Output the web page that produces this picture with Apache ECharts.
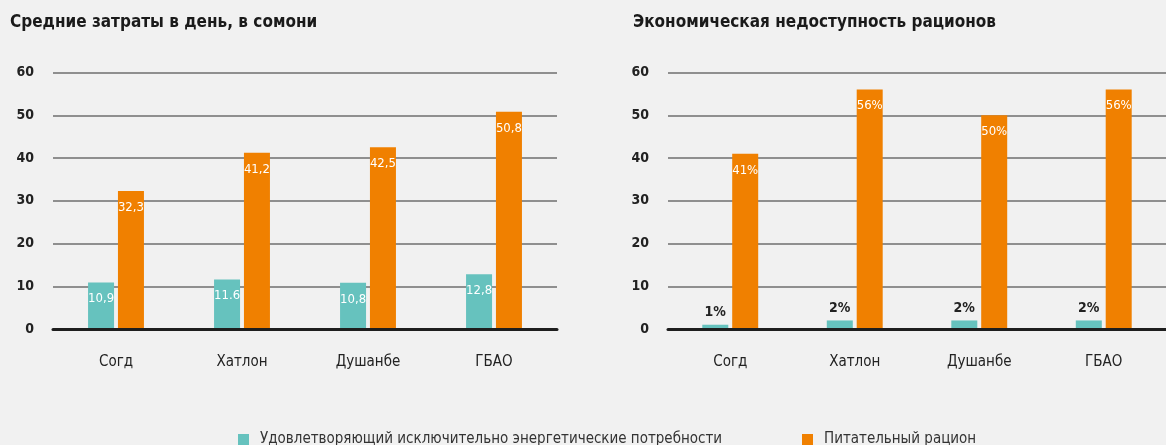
<!DOCTYPE html>
<html>
<head>
<meta charset="utf-8">
<script src="https://cdn.jsdelivr.net/npm/echarts@6/dist/echarts.min.js"></script>
<style>
html,body{margin:0;padding:0;background:#f1f1f1;}
#chart{width:1166px;height:445px;}
</style>
</head>
<body>
<div id="chart"></div>
<script>
var regions = ['Согд', 'Хатлон', 'Душанбе', 'ГБАО'];
var yTicks = [0, 10, 20, 30, 40, 50, 60];

// левая панель: средние затраты в день, сомони
var costEnergy = [10.9, 11.6, 10.8, 12.8];
var costNutri = [32.3, 41.2, 42.5, 50.8];
var costEnergyLabels = ['10,9', '11.6', '10,8', '12,8'];
var costNutriLabels = ['32,3', '41,2', '42,5', '50,8'];

// правая панель: экономическая недоступность, %
var unaffEnergy = [1, 2, 2, 2];
var unaffNutri = [41, 56, 50, 56];

var nameEnergy = 'Удовлетворяющий исключительно энергетические потребности';
var nameNutri = 'Питательный рацион';

var FONT = '"DejaVu Sans Condensed", "Liberation Sans Narrow", sans-serif';
var TEAL = '#66c2be';
var ORANGE = '#f08000';

function yAxisOpt(idx){
    return {
        gridIndex: idx,
        type: 'value',
        min: yTicks[0],
        max: yTicks[yTicks.length - 1],
        interval: 10,
        axisLine: {show: false},
        axisTick: {show: false},
        axisLabel: {
            margin: 19,
            color: '#222',
            fontFamily: FONT,
            fontWeight: 'bold',
            fontSize: 14
        },
        splitLine: {lineStyle: {color: '#6e6e6e', width: 1.5}}
    };
}
function xAxisOpt(idx){
    return {
        gridIndex: idx,
        type: 'category',
        data: regions,
        axisTick: {show: false},
        axisLine: {lineStyle: {color: '#1e1e1e', width: 3}},
        axisLabel: {
            margin: 26,
            color: '#222',
            fontFamily: FONT,
            fontSize: 15
        },
        z: 5
    };
}
function insideLabel(texts){
    return {
        show: true,
        position: 'insideTop',
        distance: 10,
        color: '#fff',
        fontFamily: FONT,
        fontSize: 13,
        formatter: function(p){ return texts ? texts[p.dataIndex] : p.value + '%'; }
    };
}

var chart = echarts.init(document.getElementById('chart'));
chart.setOption({
    backgroundColor: '#f1f1f1',
    animation: false,
    title: [
        {
            text: 'Средние затраты в день, в сомони',
            left: 10, top: 14, padding: 0,
            textStyle: {fontFamily: FONT, fontWeight: 'bold', fontSize: 17, color: '#1a1a1a'}
        },
        {
            text: 'Экономическая недоступность рационов',
            left: 633, top: 14, padding: 0,
            textStyle: {fontFamily: FONT, fontWeight: 'bold', fontSize: 17, color: '#1a1a1a'}
        }
    ],
    legend: [
        {
            data: [nameEnergy],
            left: 233, top: 427,
            itemWidth: 11, itemHeight: 11, icon: 'rect',
            textStyle: {fontFamily: FONT, fontSize: 15, color: '#333', padding: [0, 0, 0, 6]}
        },
        {
            data: [nameNutri],
            left: 797, top: 427,
            itemWidth: 11, itemHeight: 11, icon: 'rect',
            textStyle: {fontFamily: FONT, fontSize: 15, color: '#333', padding: [0, 0, 0, 6]}
        }
    ],
    grid: [
        {left: 53, top: 72.5, width: 504, height: 256.5},
        {left: 668, top: 72.5, width: 504, height: 256.5}
    ],
    xAxis: [xAxisOpt(0), xAxisOpt(1)],
    yAxis: [yAxisOpt(0), yAxisOpt(1)],
    series: [
        {
            name: nameEnergy, type: 'bar', xAxisIndex: 0, yAxisIndex: 0,
            data: costEnergy, barWidth: 26, barGap: '15%',
            itemStyle: {color: TEAL},
            label: insideLabel(costEnergyLabels)
        },
        {
            name: nameNutri, type: 'bar', xAxisIndex: 0, yAxisIndex: 0,
            data: costNutri, barWidth: 26, barGap: '15%',
            itemStyle: {color: ORANGE},
            label: insideLabel(costNutriLabels)
        },
        {
            name: nameEnergy, type: 'bar', xAxisIndex: 1, yAxisIndex: 1,
            data: unaffEnergy, barWidth: 26, barGap: '15%',
            itemStyle: {color: TEAL},
            label: {
                show: true, position: 'top', distance: 5,
                color: '#222', fontFamily: FONT, fontWeight: 'bold', fontSize: 14,
                formatter: '{c}%'
            }
        },
        {
            name: nameNutri, type: 'bar', xAxisIndex: 1, yAxisIndex: 1,
            data: unaffNutri, barWidth: 26, barGap: '15%',
            itemStyle: {color: ORANGE},
            label: insideLabel(null)
        }
    ]
});
</script>
</body>
</html>
